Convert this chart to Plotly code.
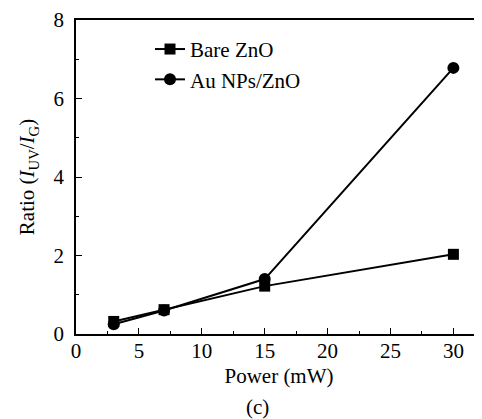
import plotly.graph_objects as go

power = [3, 7, 15, 30]
bare_zno = [0.32, 0.62, 1.22, 2.03]
au_nps_zno = [0.25, 0.60, 1.40, 6.78]
x_ticks = [0, 5, 10, 15, 20, 25, 30]
y_ticks = [0, 2, 4, 6, 8]

# page body has an 8px margin, so figure coordinates are offset by 8px
OFF = 8
W, H = 482 - OFF, 419 - OFF
L, R, T, B = 76 - OFF, 0, 16 - OFF, 419 - 334
font = "Liberation Serif, Times New Roman, DejaVu Serif, serif"

fig = go.Figure()
fig.add_trace(go.Scatter(x=power, y=bare_zno, mode="lines+markers", name="Bare ZnO",
                         line=dict(color="black", width=2),
                         marker=dict(symbol="square", size=11, color="black")))
fig.add_trace(go.Scatter(x=power, y=au_nps_zno, mode="lines+markers", name="Au NPs/ZnO",
                         line=dict(color="black", width=2),
                         marker=dict(symbol="circle", size=12, color="black")))

pw = W - L - R
ph = H - T - B

def px_x(x):
    return (x - OFF - L) / pw

def px_y(y):
    return 1 - (y - OFF - T) / ph

fig.update_layout(
    width=W, height=H,
    margin=dict(l=L, r=R, t=T, b=B),
    paper_bgcolor="white", plot_bgcolor="white",
    font=dict(family=font, size=21, color="black"),
    showlegend=True,
    legend=dict(x=px_x(150), y=px_y(25), xanchor="left", yanchor="top",
                bgcolor="rgba(0,0,0,0)", font=dict(family=font, size=21, color="black"),
                itemwidth=30, tracegroupgap=0),
    xaxis=dict(range=[0, pw / 12.58], tickvals=x_ticks, ticks="inside", ticklen=6,
               tickwidth=1.2, tickcolor="black", showline=True, linecolor="black", linewidth=1.5,
               mirror=True, showgrid=False, zeroline=False, ticklabeloverflow="allow",
               ticklabelstandoff=-3,
               tickfont=dict(family=font, size=21),
               minor=dict(ticks="inside", ticklen=3, dtick=2.5, tick0=0, tickcolor="black", showgrid=False),
               title=dict(text="Power (mW)", font=dict(family=font, size=21), standoff=6)),
    yaxis=dict(range=[0, 8], tickvals=y_ticks, ticks="inside", ticklen=6,
               tickwidth=1.2, tickcolor="black", showline=True, linecolor="black", linewidth=1.5,
               showgrid=False, zeroline=False, ticklabeloverflow="allow", ticklabelstandoff=6,
               tickfont=dict(family=font, size=21),
               minor=dict(ticks="inside", ticklen=3, dtick=1, tick0=0, tickcolor="black", showgrid=False),
               title=dict(text="Ratio (<i>I</i><sub>UV</sub>/<i>I</i><sub>G</sub>)",
                          font=dict(family=font, size=21), standoff=13)),
)

fig.add_annotation(text="(c)", xref="paper", yref="paper",
                   x=px_x(257), y=px_y(408),
                   showarrow=False, font=dict(family=font, size=21, color="black"),
                   xanchor="center", yanchor="middle")

fig.write_html("out.html")
